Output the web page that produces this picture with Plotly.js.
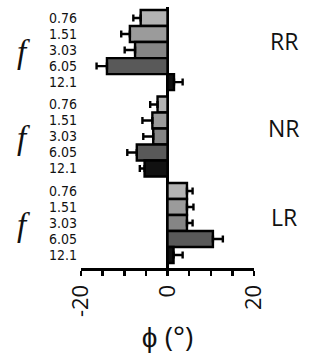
<!DOCTYPE html>
<html>
<head>
<meta charset="utf-8">
<script src="https://cdn.plot.ly/plotly-3.0.1.min.js"></script>
<style>html,body{margin:0;padding:0;background:#fff;}#chart{width:311px;height:358px;}</style>
</head>
<body>
<div id="chart"></div>
<script>
// Data
const groups = ["RR", "NR", "LR"];
const frequencies = ["0.76", "1.51", "3.03", "6.05", "12.1"];
const phiRR = [-6.2, -8.7, -7.5, -14.0, 1.5];
const errRR = [1.7, 2.0, 2.4, 2.4, 2.0];
const phiNR = [-2.3, -3.5, -3.3, -7.1, -5.3];
const errNR = [1.7, 2.3, 2.3, 2.2, 1.1];
const phiLR = [4.5, 4.5, 4.5, 10.5, 1.4];
const errLR = [1.3, 1.5, 1.3, 2.3, 2.1];
const freqColors = ["#b3b3b3", "#9b9b9b", "#858585", "#595959", "#111111"];
const xTickVals = [-20, -15, -10, -5, 0, 5, 10, 15, 20];
const xTickText = ["-20", "", "", "", "0", "", "", "", "20"];

const values = [phiRR, phiNR, phiLR];
const errors = [errRR, errNR, errLR];
const groupStep = frequencies.length + 0.4;

const y = [], x = [], colors = [], plus = [], minus = [], tickvals = [], ticktext = [];
groups.forEach((g, gi) => {
  frequencies.forEach((f, fi) => {
    const pos = gi * groupStep + fi;
    const v = values[gi][fi], e = errors[gi][fi];
    y.push(pos); x.push(v); colors.push(freqColors[fi]);
    plus.push(v >= 0 ? e : 0); minus.push(v < 0 ? e : 0);
    tickvals.push(pos); ticktext.push(f);
  });
});

const trace = {
  type: "bar", orientation: "h", x: x, y: y, width: 1,
  marker: {color: colors, line: {color: "#000", width: 2.4}},
  error_x: {type: "data", symmetric: false, array: plus, arrayminus: minus,
            color: "#000", thickness: 2.4, width: 3.5},
  hoverinfo: "none"
};

const last = (groups.length - 1) * groupStep + frequencies.length - 1;
const labelOffsets = [-0.55, -0.55, -0.4];
const annotations = [];
groups.forEach((g, gi) => {
  const center = gi * groupStep + (frequencies.length - 1) / 2;
  annotations.push({text: g, xref: "paper", yref: "y", x: 1.175, y: center + labelOffsets[gi],
    xanchor: "center", yanchor: "middle", showarrow: false,
    font: {family: "Open Sans, sans-serif", size: 23, color: "#111"}});
  annotations.push({text: "<i>f</i>", xref: "paper", yref: "y", x: -0.33, y: center + 0.1,
    xanchor: "center", yanchor: "middle", showarrow: false,
    font: {family: "Liberation Serif, serif", size: 33, color: "#111"}});
});

const layout = {
  width: 311, height: 358,
  margin: {l: 81, r: 57, t: 7, b: 90},
  paper_bgcolor: "#fff", plot_bgcolor: "#fff",
  showlegend: false,
  xaxis: {
    range: [-20, 20], tickmode: "array", tickvals: xTickVals, ticktext: xTickText,
    tickangle: -90, ticks: "outside", ticklen: 5, tickwidth: 2.5, tickcolor: "#000",
    showline: true, linewidth: 3, linecolor: "#000",
    zeroline: true, zerolinewidth: 3, zerolinecolor: "#000", showgrid: false,
    tickfont: {family: "Open Sans, sans-serif", size: 22, color: "#111"},
    title: {text: "ϕ (°)", standoff: 12, font: {family: "Open Sans, sans-serif", size: 28, color: "#111"}},
    fixedrange: true
  },
  yaxis: {
    range: [last + 0.81, -0.69], tickmode: "array", tickvals: tickvals, ticktext: ticktext,
    ticks: "", ticklabelstandoff: 3, showline: false, zeroline: false, showgrid: false,
    tickfont: {family: "DejaVu Sans Condensed, sans-serif", size: 14, color: "#111"},
    fixedrange: true
  },
  annotations: annotations
};

Plotly.newPlot("chart", [trace], layout, {displayModeBar: false, staticPlot: true});
</script>
</body>
</html>
